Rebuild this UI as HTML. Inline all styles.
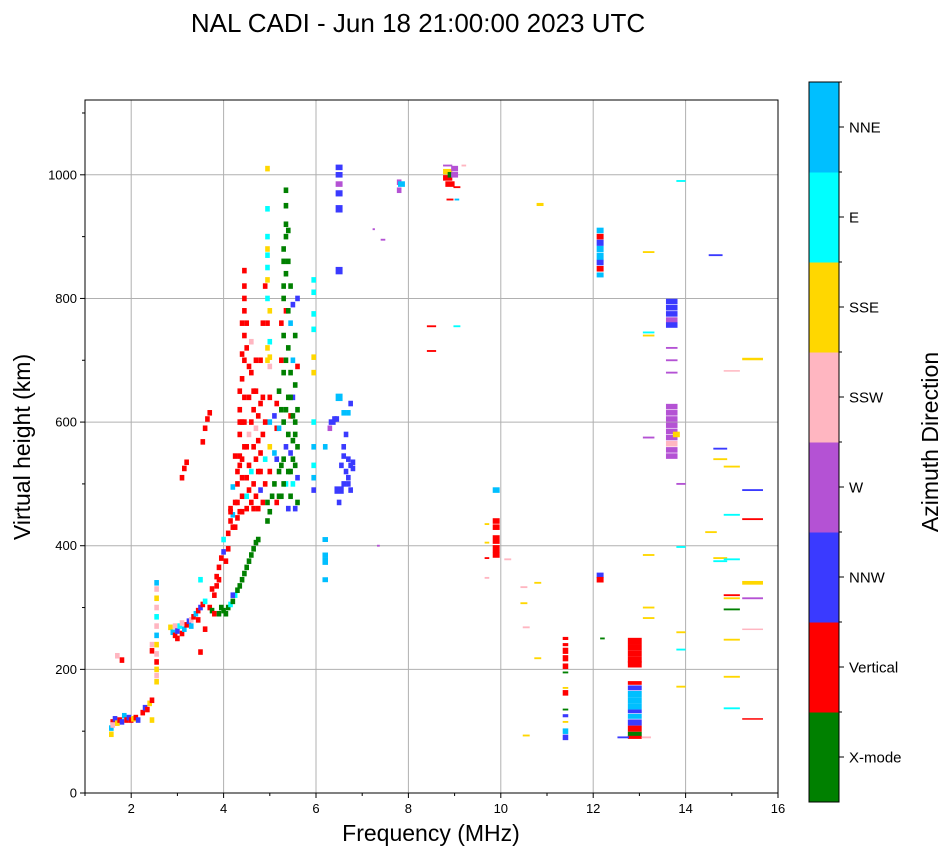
<!DOCTYPE html>
<html><head><meta charset="utf-8"><style>
body{margin:0;background:#fff;}
svg text{font-family:"Liberation Sans",sans-serif;}
</style></head><body>
<svg id="chart" width="951" height="856" xmlns="http://www.w3.org/2000/svg">
<text x="418" y="32" font-size="26" text-anchor="middle">NAL CADI - Jun 18 21:00:00 2023 UTC</text>
<g id="grid"></g>
<g id="marks"></g>
<rect x="85" y="100" width="693" height="693" fill="none" stroke="#000" stroke-width="1"/>
<g id="axes"></g>
<text x="431" y="841" font-size="23" text-anchor="middle">Frequency (MHz)</text>
<text transform="translate(30,447) rotate(-90)" font-size="23" text-anchor="middle">Virtual height (km)</text>
<g id="cbar"></g>
<text transform="translate(938,442) rotate(-90)" font-size="23" text-anchor="middle">Azimuth Direction</text>
</svg>
<script>
const categories=["X-mode","Vertical","NNW","W","SSW","SSE","E","NNE"];
const colors=["#008000","#ff0000","#3a3aff","#b452d4","#ffb6c1","#ffd700","#00ffff","#00bfff"];
const xTicks=[2,4,6,8,10,12,14,16];
const yTicks=[0,200,400,600,800,1000];
// marks: [freqMHz, heightKm, directionIndex, widthMHz(optional), heightSpanKm(optional)]
const marks=[
[1.57,95,5],[1.57,105,7],[1.6,115,1],[1.6,110,4],[1.65,120,2],[1.7,113,5],[1.75,118,1],[1.8,115,2],[1.8,215,1],[1.7,222,4],[1.85,125,7],[1.9,118,1],[1.95,122,2],[2.0,118,1],[2.05,120,5],[2.1,122,1],[2.15,118,2],[2.25,130,1],[2.3,138,2],[2.35,135,1],[2.4,145,5],[2.45,150,1],[2.45,118,5],[2.45,230,1],[2.45,240,4],
[2.55,180,5],[2.55,190,4],[2.55,200,5],[2.55,212,1],[2.55,225,4],[2.55,240,5],[2.55,255,7],[2.55,270,4],[2.55,285,6],[2.55,300,4],[2.55,315,5],[2.55,330,4],[2.55,340,7],
[2.85,268,5],[2.9,260,7],[2.95,255,1],[2.95,270,4],[3.0,262,2],[3.05,270,6],[3.1,258,1],[3.15,265,7],[3.2,272,1],[3.25,278,2],[3.3,280,4],[3.35,285,1],[3.4,290,7],[3.45,295,1],[3.5,300,2],[3.55,305,1],[3.6,310,6],[3.5,228,1],[3.5,345,6],[3.6,265,1],[3.0,250,1],[3.1,275,4],[3.3,270,7],[3.45,280,1],
[3.1,510,1],[3.15,525,1],[3.2,535,1],[3.55,568,1],[3.6,590,1],[3.65,605,1],[3.7,615,1],
[3.7,300,1],[3.75,295,0],[3.8,290,1],[3.8,320,1],[3.85,335,1],[3.85,350,1],[3.9,345,1],[3.9,365,1],[3.95,380,1],[3.95,300,0],[4.0,390,2],[4.0,410,6],[4.0,295,0],[4.05,375,1],[4.1,395,1],[4.1,300,0],[4.15,305,6],[4.2,310,0],[4.25,320,6],[4.3,328,0],[4.35,335,0],[4.4,345,0],[4.45,355,0],[4.5,365,0],[4.55,375,0],[4.6,385,0],[4.65,395,0],[4.7,405,0],[4.75,410,0],[3.9,290,0],[4.05,290,0],[4.2,320,2],[3.75,330,1],
[4.1,420,1],[4.15,440,1],[4.15,460,1],[4.2,430,1],[4.2,450,7],[4.2,495,7],[4.25,470,1],[4.3,445,1],[4.3,500,1],[4.35,455,1],[4.35,530,1],[4.35,580,1],[4.35,620,1],[4.35,650,1],[4.4,480,1],[4.4,540,1],[4.4,600,1],[4.4,670,1],[4.45,700,1],[4.45,740,1],[4.45,780,1],[4.45,820,1],[4.45,845,1],[4.5,460,1],[4.5,510,1],[4.5,560,1],[4.5,720,1],[4.5,760,1],[4.55,490,1],[4.55,580,4],[4.55,640,1],[4.6,470,1],[4.6,520,6],[4.6,600,1],[4.6,680,1],[4.6,730,4],[4.65,500,1],[4.65,560,1],[4.65,620,1],[4.7,480,1],[4.7,540,1],[4.7,590,4],[4.7,650,1],[4.75,460,1],[4.75,520,1],[4.75,610,1],[4.8,490,2],[4.8,550,1],[4.8,630,1],[4.8,700,1],[4.85,470,1],[4.85,580,1],[4.85,760,1],[4.9,500,1],[4.9,540,6],[4.9,820,1],[4.35,545,1],[4.25,545,1],[4.15,455,1],[4.4,455,1],[4.45,640,1],[4.45,560,1],
[4.3,470,1],[4.25,430,1],[4.4,510,1],[4.45,600,1],[4.4,710,1],[4.4,760,1],[4.45,800,1],[4.55,530,1],[4.55,690,1],[4.65,460,1],[4.65,650,1],[4.7,700,1],[4.75,570,1],[4.8,520,1],[4.85,640,1],[4.9,600,1],[4.5,480,6],[4.3,520,1],[4.35,600,1],
[4.95,700,5],[4.95,720,5],[4.95,760,1],[4.95,800,6],[4.95,850,6],[4.95,880,5],[4.95,900,6],[4.95,945,6],[4.95,1010,5],[5.0,705,5],[5.0,690,4],[5.0,730,6],[5.0,640,1],[5.0,600,7],[5.0,560,5],[5.0,520,1],[4.95,470,0],[4.95,440,0],[5.0,455,0],[5.05,480,0],[4.95,870,6],[4.95,830,5],[5.0,780,5],
[5.1,500,0],[5.1,550,7],[5.15,470,1],[5.15,590,1],[5.2,520,0],[5.2,650,0],[5.25,480,0],[5.25,700,1],[5.25,760,1],[5.3,540,0],[5.3,600,0],[5.3,680,0],[5.3,740,0],[5.3,800,0],[5.3,860,0],[5.35,900,0],[5.35,950,0],[5.35,975,0],[5.35,840,0],[5.35,780,1],[5.35,560,2],[5.35,500,6],[5.4,460,2],[5.4,520,0],[5.4,580,0],[5.4,640,0],[5.4,720,0],[5.4,910,0],[5.45,480,0],[5.45,550,2],[5.45,610,1],[5.45,680,0],[5.45,760,7],[5.45,820,0],[5.5,500,6],[5.5,570,0],[5.5,640,2],[5.5,700,7],[5.5,790,2],[5.55,460,2],[5.55,530,0],[5.55,600,0],[5.55,660,0],[5.55,740,0],[5.6,510,2],[5.6,560,0],[5.6,620,0],[5.6,690,1],[5.6,800,2],[5.2,590,7],[5.15,630,1],[5.1,610,2],[5.25,530,0],[5.45,520,0],
[5.3,880,0],[5.35,920,0],[5.3,820,0],[5.35,700,0],[5.25,620,0],[5.4,780,0],[5.45,640,0],[5.5,540,0],[5.55,580,0],[5.35,620,0],[5.3,500,0],[5.2,480,0],[5.15,540,2],[5.6,470,0],[5.5,610,0],[5.4,860,0],
[5.95,490,2],[5.95,510,7],[5.95,530,6],[5.95,560,7],[5.95,600,6],[5.95,680,5],[5.95,705,5],[5.95,750,6],[5.95,775,6],[5.95,810,6],[5.95,830,6],
[6.2,345,7,0.12,8],[6.2,375,7,0.12,12],[6.2,385,7,0.12,8],[6.2,410,7,0.12,8],[6.2,560,7],[6.3,590,3],[6.35,600,2,0.15],[6.45,605,2],[6.5,640,7,0.15,12],[6.5,490,2,0.2,12],[6.5,470,2],[6.55,530,2],[6.6,560,2],[6.6,500,2],[6.65,520,2],[6.65,580,2],[6.7,540,2],[6.7,510,2],[6.75,530,2],[6.75,490,2],[6.75,630,2],[6.8,525,2],[6.7,615,7],[6.6,615,7],[6.5,945,2,0.15,12],[6.5,970,2,0.15,10],[6.5,985,3,0.15],[6.5,1000,2,0.15],[6.5,1012,2,0.15],[6.5,845,2,0.15,12],[6.6,545,2],[6.7,500,2],[6.8,535,2],[6.4,605,2],
[7.25,912,3,0.05,3],[7.45,895,3,0.1,3],[7.35,400,3,0.06,3],[7.8,975,3],[7.8,988,3],[7.85,985,7,0.15],[8.85,1015,3,0.2,3],[8.85,1005,5,0.2],[8.85,995,1,0.2],[8.9,1000,0],[8.9,985,1,0.2],[8.9,960,1,0.15,3],[9.0,1010,3,0.15],[9.0,1000,3,0.15],[9.05,980,1,0.15,3],[9.05,960,7,0.1,3],[9.2,1015,4,0.1,3],[8.5,755,1,0.2,3],[8.5,715,1,0.2,3],[9.05,755,6,0.15,3],
[9.9,490,7,0.15],[9.9,440,1,0.15],[9.9,430,1,0.15],[9.9,410,1,0.15,14],[9.9,395,1,0.15,12],[9.9,385,1,0.15],[9.7,435,5,0.1,3],[9.7,405,5,0.1,3],[9.7,380,1,0.1,3],[9.7,348,4,0.1,3],[10.15,378,4,0.15,3],[10.5,333,4,0.15,3],[10.5,307,5,0.15,3],[10.55,268,4,0.15,3],[10.8,340,5,0.15,3],[10.8,218,5,0.15,3],[10.55,93,5,0.15,3],[10.85,952,5,0.15,5],
[11.4,250,1,0.12,5],[11.4,240,1,0.12,5],[11.4,230,1,0.12,10],[11.4,218,1,0.12,10],[11.4,205,1,0.12],[11.4,170,5,0.12,3],[11.4,162,1,0.12],[11.4,135,0,0.12,3],[11.4,125,2,0.12,5],[11.4,115,5,0.12,3],[11.4,100,7,0.12],[11.4,90,2,0.12],[11.4,195,0,0.12,3],
[12.15,910,7,0.15],[12.15,900,1,0.15],[12.15,890,2,0.15,10],[12.15,880,7,0.15,10],[12.15,868,7,0.15,12],[12.15,858,2,0.15],[12.15,848,1,0.15],[12.15,838,7,0.15,8],[12.15,352,2,0.15],[12.15,345,1,0.15],[12.2,250,0,0.1,3],
[12.9,246,1,0.3,10],[12.9,236,1,0.3,10],[12.9,226,1,0.3,10],[12.9,216,1,0.3,10],[12.9,208,1,0.3,10],[12.9,178,1,0.3,6],[12.9,170,2,0.3,8],[12.9,160,7,0.3,10],[12.9,150,7,0.3,10],[12.9,140,7,0.3,10],[12.9,132,2,0.3,6],[12.9,124,7,0.3,8],[12.9,114,2,0.3,10],[12.9,104,1,0.3,10],[12.9,95,0,0.3,8],[12.9,90,1,0.3,5],[12.65,90,2,0.25,3],[13.15,90,4,0.2,3],
[13.2,875,5,0.25,3],[13.2,745,6,0.25,3],[13.2,740,5,0.25,3],[13.2,575,3,0.25,3],[13.2,385,5,0.25,3],[13.2,300,5,0.25,3],[13.2,283,5,0.25,3],
[13.7,795,2,0.25],[13.7,785,2,0.25],[13.7,775,2,0.25],[13.7,765,3,0.25],[13.7,757,2,0.25],[13.7,720,3,0.25,3],[13.7,700,3,0.25,3],[13.7,680,3,0.25,3],[13.7,625,3,0.25],[13.7,615,3,0.25],[13.7,605,3,0.25],[13.7,595,3,0.25],[13.7,585,3,0.25],[13.7,575,3,0.25],[13.7,565,4,0.25],[13.7,555,3,0.25],[13.7,545,3,0.25],[13.8,580,5,0.15],
[13.9,990,6,0.2,3],[13.9,500,3,0.2,3],[13.9,398,6,0.2,3],[13.9,260,5,0.2,3],[13.9,232,6,0.2,3],[13.9,172,5,0.2,3],
[14.65,870,2,0.3,3],[14.55,422,5,0.25,3],[14.75,557,2,0.3,3],[14.75,540,5,0.3,3],[14.75,380,5,0.3,3],[14.75,375,6,0.3,3],[15.0,683,4,0.35,2],[15.0,528,5,0.35,3],[15.0,450,6,0.35,3],[15.0,378,6,0.35,3],[15.0,320,1,0.35,3],[15.0,315,5,0.35,3],[15.0,297,0,0.35,3],[15.0,248,5,0.35,3],[15.0,188,5,0.35,3],[15.0,137,6,0.35,3],[15.45,702,5,0.45,4],[15.45,490,2,0.45,3],[15.45,443,1,0.45,3],[15.45,340,5,0.45,6],[15.45,315,3,0.45,3],[15.45,265,4,0.45,2],[15.45,120,1,0.45,2]
];
const NS='http://www.w3.org/2000/svg';
const X0=85,X1=778,Y0=793,Y1=100,FMIN=1,FMAX=16,HMIN=0,HMAX=1121;
function xs(f){return X0+(f-FMIN)/(FMAX-FMIN)*(X1-X0);}
function ys(h){return Y0-(h-HMIN)/(HMAX-HMIN)*(Y0-Y1);}
function el(tag,attrs,parent){const e=document.createElementNS(NS,tag);for(const k in attrs)e.setAttribute(k,attrs[k]);parent.appendChild(e);return e;}
const grid=document.getElementById('grid'),axes=document.getElementById('axes'),mg=document.getElementById('marks'),cb=document.getElementById('cbar');
xTicks.forEach(t=>{const x=xs(t);
 if(t<FMAX){const g=el('line',{x1:x,x2:x,y1:Y1,y2:Y0,stroke:'#b0b0b0','stroke-width':1},grid);
 
 }
 el('line',{x1:x,x2:x,y1:Y0,y2:Y0+5,stroke:'#000'},axes);
 const tx=el('text',{x:x,y:Y0+20,'font-size':13,'text-anchor':'middle'},axes);tx.textContent=t;
 
 });
for(let t=FMIN;t<FMAX;t+=2){const x=xs(t);el('line',{x1:x,x2:x,y1:Y0,y2:Y0+3,stroke:'#000'},axes);}
yTicks.forEach(t=>{const y=ys(t);
 if(t>0){const g=el('line',{x1:X0,x2:X1,y1:y,y2:y,stroke:'#b0b0b0','stroke-width':1},grid);
 
 }
 el('line',{x1:X0-5,x2:X0,y1:y,y2:y,stroke:'#000'},axes);
 const tx=el('text',{x:X0-8,y:y+4.5,'font-size':13,'text-anchor':'end'},axes);tx.textContent=t;
 
 });
for(let t=100;t<HMAX;t+=200){const y=ys(t);el('line',{x1:X0-3,x2:X0,y1:y,y2:y,stroke:'#000'},axes);}
marks.forEach(m=>{const w=(m[3]||0.1),hs=(m[4]||9);
 const x=xs(m[0]-w/2),x2=xs(m[0]+w/2),y=ys(m[1]+hs/2),y2=ys(m[1]-hs/2);
 const r=el('rect',{x:x,y:y,width:Math.max(1,x2-x),height:Math.max(1.5,y2-y),fill:colors[m[2]]},mg);
 
 });
const CX=809,CW=30,CT=82,CB=802,seg=(CB-CT)/categories.length;
categories.forEach((c,i)=>{const y=CB-(i+1)*seg;
 const r=el('rect',{x:CX,y:y,width:CW,height:seg+0.5,fill:colors[i]},cb);
 
 
 el('line',{x1:CX+CW,x2:CX+CW+5,y1:y+seg/2,y2:y+seg/2,stroke:'#000'},cb);
 el('line',{x1:CX+CW,x2:CX+CW+3,y1:y,y2:y,stroke:'#000'},cb);
 const t=el('text',{x:CX+CW+10,y:y+seg/2+5.5,'font-size':15},cb);t.textContent=c;
 
 });
const fr=el('rect',{x:CX,y:CT,width:CW,height:CB-CT,fill:'none',stroke:'#000'},cb);


</script>
</body></html>
